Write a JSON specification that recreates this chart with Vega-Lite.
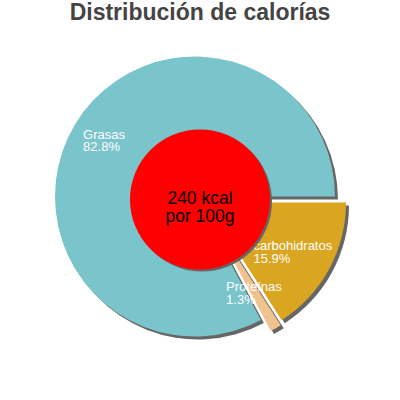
{
  "$schema": "https://vega.github.io/schema/vega-lite/v6.json",
  "width": 400,
  "height": 400,
  "autosize": {"type": "fit", "contains": "padding"},
  "padding": {"top": 2, "bottom": 30, "left": 0, "right": 0},
  "background": "white",
  "title": {
    "text": "Distribución de calorías",
    "font": "Liberation Sans",
    "fontSize": 23,
    "fontWeight": "bold",
    "color": "#444444",
    "anchor": "middle",
    "offset": 4
  },
  "config": {"view": {"stroke": null}},
  "data": {
    "values": [
      {"cat": "carbohidratos", "pct": 15.9, "orden": 1, "label": "carbohidratos\n15.9%"},
      {"cat": "Proteínas", "pct": 1.3, "orden": 2, "label": "Proteínas\n1.3%"},
      {"cat": "Grasas", "pct": 82.8, "orden": 3, "label": "Grasas\n82.8%"}
    ]
  },
  "layer": [
    {
      "mark": {"type": "arc", "radius": 140, "color": "#666666", "xOffset": -2, "yOffset": 0},
      "encoding": {
        "theta": {"field": "pct", "type": "quantitative", "stack": true, "scale": {"domain": [0, 100], "range": [1.5708, 7.854]}},
        "order": {"field": "orden", "type": "quantitative"},
        "opacity": {"condition": {"test": "datum.cat === 'Grasas'", "value": 1}, "value": 0}
      }
    },
    {
      "mark": {"type": "arc", "radius": 140, "color": "#666666", "xOffset": 9, "yOffset": 6},
      "encoding": {
        "theta": {"field": "pct", "type": "quantitative", "stack": true},
        "order": {"field": "orden", "type": "quantitative"},
        "opacity": {"condition": {"test": "datum.cat === 'carbohidratos'", "value": 1}, "value": 0}
      }
    },
    {
      "mark": {"type": "arc", "radius": 140, "color": "#666666", "xOffset": 8, "yOffset": 11},
      "encoding": {
        "theta": {"field": "pct", "type": "quantitative", "stack": true},
        "order": {"field": "orden", "type": "quantitative"},
        "opacity": {"condition": {"test": "datum.cat === 'Proteínas'", "value": 1}, "value": 0}
      }
    },
    {
      "mark": {"type": "arc", "radius": 140, "color": "#7ac4cc", "xOffset": -5, "yOffset": -3},
      "encoding": {
        "theta": {"field": "pct", "type": "quantitative", "stack": true},
        "order": {"field": "orden", "type": "quantitative"},
        "opacity": {"condition": {"test": "datum.cat === 'Grasas'", "value": 1}, "value": 0}
      }
    },
    {
      "mark": {"type": "arc", "radius": 140, "color": "#daa520", "xOffset": 6, "yOffset": 3},
      "encoding": {
        "theta": {"field": "pct", "type": "quantitative", "stack": true},
        "order": {"field": "orden", "type": "quantitative"},
        "opacity": {"condition": {"test": "datum.cat === 'carbohidratos'", "value": 1}, "value": 0}
      }
    },
    {
      "mark": {"type": "arc", "radius": 140, "color": "#f0c38e", "xOffset": 5, "yOffset": 8},
      "encoding": {
        "theta": {"field": "pct", "type": "quantitative", "stack": true},
        "order": {"field": "orden", "type": "quantitative"},
        "opacity": {"condition": {"test": "datum.cat === 'Proteínas'", "value": 1}, "value": 0}
      }
    },
    {
      "mark": {"type": "text", "radius": 120, "align": "left", "baseline": "alphabetic", "dx": -14, "dy": 1, "color": "white", "font": "Liberation Sans", "fontSize": 13, "lineBreak": "\n", "lineHeight": 12.5},
      "encoding": {
        "theta": {"field": "pct", "type": "quantitative", "stack": true},
        "order": {"field": "orden", "type": "quantitative"},
        "text": {"field": "label"},
        "opacity": {"condition": {"test": "datum.cat === 'Grasas'", "value": 1}, "value": 0}
      }
    },
    {
      "mark": {"type": "text", "radius": 70, "align": "left", "baseline": "alphabetic", "dx": -8, "dy": 17, "color": "white", "font": "Liberation Sans", "fontSize": 13, "lineBreak": "\n", "lineHeight": 12.5},
      "encoding": {
        "theta": {"field": "pct", "type": "quantitative", "stack": true},
        "order": {"field": "orden", "type": "quantitative"},
        "text": {"field": "label"},
        "opacity": {"condition": {"test": "datum.cat === 'carbohidratos'", "value": 1}, "value": 0}
      }
    },
    {
      "mark": {"type": "text", "radius": 95, "align": "left", "baseline": "alphabetic", "dx": -22, "dy": 10, "color": "white", "font": "Liberation Sans", "fontSize": 13, "lineBreak": "\n", "lineHeight": 12.5},
      "encoding": {
        "theta": {"field": "pct", "type": "quantitative", "stack": true},
        "order": {"field": "orden", "type": "quantitative"},
        "text": {"field": "label"},
        "opacity": {"condition": {"test": "datum.cat === 'Proteínas'", "value": 1}, "value": 0}
      }
    },
    {
      "data": {"values": [{"centro": "240 kcal\npor 100g"}]},
      "layer": [
        {
          "mark": {"type": "arc", "radius": 70, "theta": 6.2832, "color": "#666666", "xOffset": 2, "yOffset": 2},
          "encoding": {}
        },
        {
          "mark": {"type": "arc", "radius": 70, "theta": 6.2832, "color": "#ff0000"},
          "encoding": {}
        },
        {
          "mark": {"type": "text", "baseline": "middle", "align": "center", "dy": -1, "color": "black", "font": "Liberation Sans", "fontSize": 17.5, "lineBreak": "\n", "lineHeight": 18},
          "encoding": {"text": {"field": "centro"}}
        }
      ]
    }
  ]
}
